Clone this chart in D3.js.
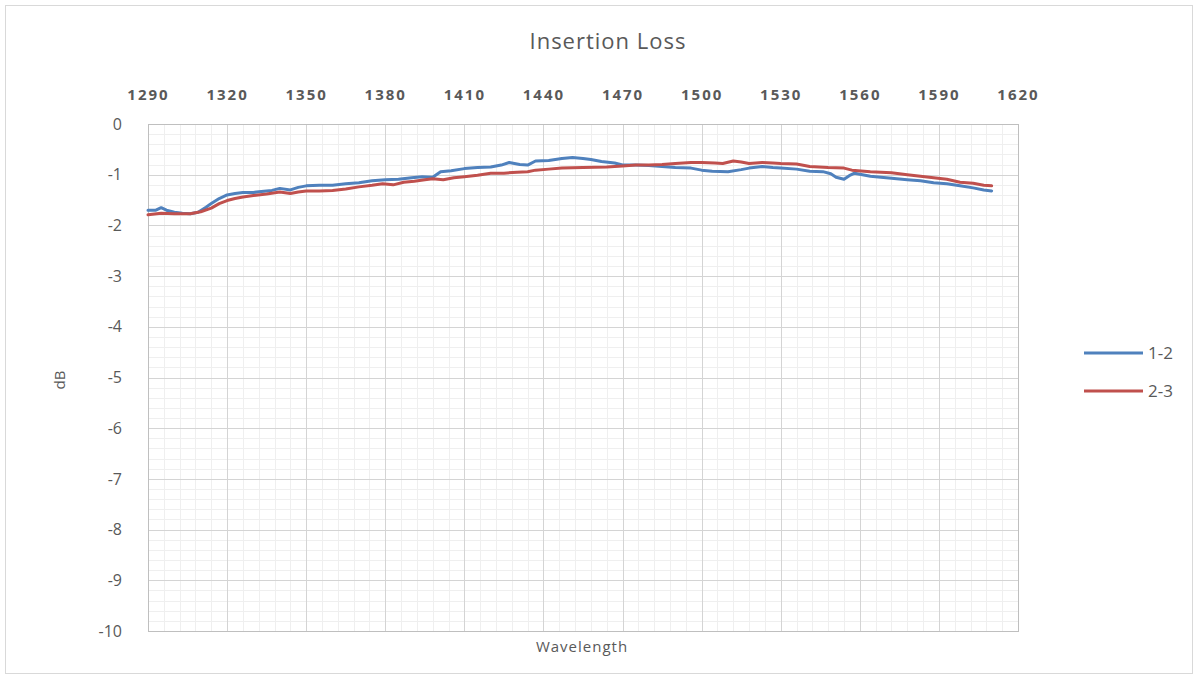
<!DOCTYPE html>
<html>
<head>
<meta charset="utf-8">
<script src="https://cdn.jsdelivr.net/npm/d3@7"></script>
<style>
  body { margin: 0; background: #fff; }
  text { font-family: "Open Sans", "Liberation Sans", sans-serif; fill: #595959; }
</style>
</head>
<body>
<script>
// chart values
var xTicks = [1290, 1320, 1350, 1380, 1410, 1440, 1470, 1500, 1530, 1560, 1590, 1620];
var yTicks = [0, -1, -2, -3, -4, -5, -6, -7, -8, -9, -10];
var seriesNames = ["1-2", "2-3"];

var wl12 = [1290,1293,1295,1297,1300,1303,1306,1309,1312,1314,1317,1320,1323,1326,1330,1333,1337,1340,1344,1347,1350,1355,1360,1365,1370,1375,1380,1385,1390,1394,1398,1401,1405,1410,1415,1420,1424,1427,1431,1434,1437,1442,1447,1451,1455,1458,1462,1467,1470,1475,1480,1485,1490,1496,1500,1504,1510,1515,1518,1523,1527,1530,1536,1541,1546,1549,1551,1554,1556,1558,1564,1572,1578,1583,1588,1593,1598,1603,1607,1610];
var loss12 = [-1.70,-1.70,-1.65,-1.70,-1.74,-1.76,-1.77,-1.74,-1.64,-1.57,-1.47,-1.40,-1.37,-1.35,-1.35,-1.33,-1.31,-1.27,-1.30,-1.25,-1.22,-1.21,-1.21,-1.18,-1.16,-1.12,-1.10,-1.09,-1.06,-1.04,-1.05,-0.94,-0.92,-0.88,-0.86,-0.85,-0.81,-0.76,-0.80,-0.81,-0.73,-0.72,-0.68,-0.66,-0.68,-0.70,-0.74,-0.77,-0.81,-0.81,-0.82,-0.84,-0.86,-0.87,-0.91,-0.93,-0.94,-0.90,-0.87,-0.84,-0.86,-0.87,-0.89,-0.93,-0.94,-0.98,-1.05,-1.09,-1.02,-0.97,-1.03,-1.07,-1.10,-1.12,-1.16,-1.18,-1.22,-1.26,-1.30,-1.32];

var wl23 = [1290,1295,1300,1306,1310,1314,1317,1320,1323,1326,1330,1335,1340,1344,1347,1350,1355,1360,1365,1370,1375,1379,1383,1387,1391,1395,1398,1402,1406,1410,1415,1420,1425,1430,1434,1437,1442,1447,1455,1464,1470,1475,1480,1485,1490,1496,1500,1505,1508,1512,1515,1518,1523,1527,1530,1536,1541,1548,1554,1557,1564,1572,1578,1583,1588,1593,1598,1603,1607,1610];
var loss23 = [-1.79,-1.76,-1.77,-1.77,-1.73,-1.66,-1.57,-1.51,-1.47,-1.44,-1.41,-1.38,-1.34,-1.37,-1.34,-1.32,-1.32,-1.31,-1.28,-1.24,-1.21,-1.18,-1.20,-1.15,-1.13,-1.10,-1.08,-1.10,-1.06,-1.04,-1.01,-0.97,-0.97,-0.95,-0.94,-0.91,-0.89,-0.87,-0.86,-0.85,-0.83,-0.81,-0.81,-0.80,-0.78,-0.76,-0.76,-0.77,-0.78,-0.73,-0.75,-0.78,-0.76,-0.77,-0.78,-0.79,-0.84,-0.86,-0.87,-0.91,-0.94,-0.96,-1.00,-1.03,-1.06,-1.09,-1.15,-1.17,-1.21,-1.22];

var colors = ["#4f81bd", "#c0504d"];

var W = 1198, H = 679;
var plotLeft = 148, plotRight = 1018, plotTop = 124, plotBottom = 631;

var svg = d3.select("body").append("svg").attr("width", W).attr("height", H);

svg.append("rect")
  .attr("x", 5.5).attr("y", 5.5).attr("width", W - 11).attr("height", H - 11)
  .attr("fill", "#fff").attr("stroke", "#d9d9d9");

var x = d3.scaleLinear().domain([1290, 1620]).range([plotLeft, plotRight]);
var y = d3.scaleLinear().domain([-10, 0]).range([plotBottom, plotTop]);

// minor grid
var minorX = d3.range(1290, 1620.1, 6);
var minorY = d3.range(-10, 0.01, 0.2);
var grid = svg.append("g");
grid.selectAll(".mx").data(minorX).enter().append("line")
  .attr("x1", d => Math.round(x(d)) + 0.5).attr("x2", d => Math.round(x(d)) + 0.5)
  .attr("y1", plotTop).attr("y2", plotBottom)
  .attr("stroke", "#efefef");
grid.selectAll(".my").data(minorY).enter().append("line")
  .attr("y1", d => Math.round(y(d)) + 0.5).attr("y2", d => Math.round(y(d)) + 0.5)
  .attr("x1", plotLeft).attr("x2", plotRight)
  .attr("stroke", "#efefef");

// major grid
grid.selectAll(".Mx").data(xTicks).enter().append("line")
  .attr("x1", d => Math.round(x(d)) + 0.5).attr("x2", d => Math.round(x(d)) + 0.5)
  .attr("y1", plotTop).attr("y2", plotBottom)
  .attr("stroke", "#d4d4d4");
grid.selectAll(".My").data(yTicks).enter().append("line")
  .attr("y1", d => Math.round(y(d)) + 0.5).attr("y2", d => Math.round(y(d)) + 0.5)
  .attr("x1", plotLeft).attr("x2", plotRight)
  .attr("stroke", "#d4d4d4");

svg.append("rect")
  .attr("x", plotLeft + 0.5).attr("y", plotTop + 0.5)
  .attr("width", plotRight - plotLeft).attr("height", plotBottom - plotTop)
  .attr("fill", "none").attr("stroke", "#bfbfbf");

// top axis labels
var xAxis = d3.axisTop(x).tickValues(xTicks).tickSize(0).tickPadding(0).tickFormat(d3.format("d"));
var gx = svg.append("g").attr("transform", "translate(0,100)").call(xAxis);
gx.select(".domain").remove();
gx.selectAll("text")
  .style("font-size", "15px").style("font-weight", "bold").style("letter-spacing", "2px")
  .attr("fill", "#595959");

// left axis labels (plain hyphen as in the reference)
var yAxis = d3.axisLeft(y).tickValues(yTicks).tickSize(0).tickPadding(0).tickFormat(d => String(d));
var gy = svg.append("g").attr("transform", "translate(122,0)").call(yAxis);
gy.select(".domain").remove();
gy.selectAll("text").style("font-size", "16px").attr("fill", "#595959");

// series
var line = d3.line().x(d => x(d[0])).y(d => y(d[1]));
var series = [d3.zip(wl12, loss12), d3.zip(wl23, loss23)];
svg.selectAll(".series").data(series).enter().append("path")
  .attr("d", line)
  .attr("fill", "none")
  .attr("stroke", (d, i) => colors[i])
  .attr("stroke-width", 3)
  .attr("stroke-linejoin", "round")
  .attr("stroke-linecap", "round");

// titles
svg.append("text").attr("x", 608).attr("y", 49).attr("text-anchor", "middle")
  .style("font-size", "22px").style("letter-spacing", "1px").text("Insertion Loss");
svg.append("text").attr("x", 582).attr("y", 652).attr("text-anchor", "middle")
  .style("font-size", "15px").style("letter-spacing", "1px").text("Wavelength");
svg.append("text").attr("transform", "translate(65,380) rotate(-90)").attr("text-anchor", "middle")
  .style("font-size", "15px").text("dB");

// legend
var legend = svg.selectAll(".legend").data(seriesNames).enter().append("g")
  .attr("transform", (d, i) => "translate(1084," + (353 + i * 38) + ")");
legend.append("line").attr("x1", 0).attr("x2", 59).attr("y1", 0).attr("y2", 0)
  .attr("stroke", (d, i) => colors[i]).attr("stroke-width", 3);
legend.append("text").attr("x", 64).attr("y", 6)
  .style("font-size", "17px").text(d => d);
</script>
</body>
</html>
